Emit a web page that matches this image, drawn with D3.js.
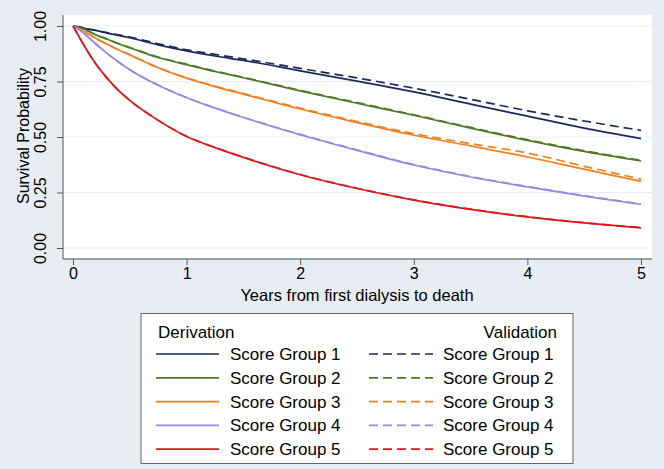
<!DOCTYPE html>
<html>
<head>
<meta charset="utf-8">
<script src="https://cdn.jsdelivr.net/npm/d3@7"></script>
<style>
  body { margin: 0; background: #e8edf3; }
  text { font-family: "Liberation Sans", Arial, sans-serif; fill: #000; }
</style>
</head>
<body>
<div id="chart"></div>
<script>
// years since first dialysis
const years = [0, 0.05, 0.1, 0.2, 0.3, 0.4, 0.5, 0.75, 1, 1.25, 1.5, 2, 2.5, 3, 3.5, 4, 4.5, 5];

// derivation cohort, survival by score group
const deriv1 = [1, 0.996, 0.99, 0.98, 0.968, 0.958, 0.947, 0.915, 0.888, 0.865, 0.845, 0.798, 0.752, 0.703, 0.648, 0.594, 0.54, 0.493];
const deriv2 = [1, 0.994, 0.985, 0.96, 0.94, 0.92, 0.902, 0.858, 0.826, 0.795, 0.767, 0.708, 0.652, 0.598, 0.54, 0.485, 0.435, 0.392];
const deriv3 = [1, 0.99, 0.975, 0.945, 0.918, 0.893, 0.87, 0.812, 0.765, 0.727, 0.693, 0.626, 0.565, 0.508, 0.46, 0.41, 0.355, 0.3];
const deriv4 = [1, 0.985, 0.965, 0.92, 0.877, 0.838, 0.803, 0.733, 0.677, 0.63, 0.588, 0.51, 0.44, 0.374, 0.32, 0.275, 0.234, 0.196];
const deriv5 = [1, 0.955, 0.91, 0.83, 0.765, 0.71, 0.665, 0.575, 0.502, 0.452, 0.408, 0.33, 0.268, 0.216, 0.174, 0.14, 0.113, 0.091];

// validation cohort
const valid1 = [1, 0.996, 0.99, 0.98, 0.97, 0.96, 0.95, 0.92, 0.893, 0.872, 0.852, 0.809, 0.766, 0.72, 0.67, 0.618, 0.572, 0.53];
const valid2 = [1, 0.994, 0.985, 0.961, 0.941, 0.921, 0.903, 0.86, 0.828, 0.797, 0.769, 0.71, 0.655, 0.6, 0.543, 0.488, 0.438, 0.395];
const valid3 = [1, 0.99, 0.975, 0.945, 0.918, 0.893, 0.87, 0.812, 0.766, 0.729, 0.696, 0.63, 0.57, 0.515, 0.47, 0.428, 0.368, 0.31];
const valid4 = [1, 0.985, 0.965, 0.92, 0.877, 0.838, 0.803, 0.734, 0.678, 0.631, 0.589, 0.512, 0.442, 0.376, 0.322, 0.277, 0.236, 0.198];
const valid5 = [1, 0.955, 0.91, 0.83, 0.765, 0.71, 0.665, 0.575, 0.503, 0.453, 0.409, 0.331, 0.269, 0.217, 0.175, 0.141, 0.114, 0.092];

const groupNames = ['Score Group 1', 'Score Group 2', 'Score Group 3', 'Score Group 4', 'Score Group 5'];
const colors = ['#1c2a5a', '#4f7a28', '#f07f1d', '#9a86de', '#d8191e'];
const xTicks = [0, 1, 2, 3, 4, 5];
const yTicks = [0, 0.25, 0.5, 0.75, 1];

const W = 664, H = 469;
const margin = { top: 15, right: 12, bottom: 211, left: 63 };

const svg = d3.select('#chart').append('svg')
  .attr('width', W)
  .attr('height', H);

svg.append('rect').attr('width', W).attr('height', H).attr('fill', '#e8edf3');

// plot region
svg.append('rect')
  .attr('x', margin.left)
  .attr('y', margin.top)
  .attr('width', W - margin.left - margin.right)
  .attr('height', H - margin.top - margin.bottom)
  .attr('fill', '#fff');

const x = d3.scaleLinear().domain([0, 5]).range([73, 641]);
const y = d3.scaleLinear().domain([0, 1]).range([248, 26]);
const plotBottom = H - margin.bottom + 1;

// grid
svg.append('g').selectAll('line')
  .data(yTicks)
  .enter().append('line')
  .attr('x1', margin.left)
  .attr('x2', W - margin.right)
  .attr('y1', d => y(d))
  .attr('y2', d => y(d))
  .attr('stroke', '#e9edf3')
  .attr('stroke-width', 1.2);

const line = d3.line()
  .x(d => x(d[0]))
  .y(d => y(d[1]))
  .curve(d3.curveMonotoneX);

const derivs = [deriv1, deriv2, deriv3, deriv4, deriv5];
const valids = [valid1, valid2, valid3, valid4, valid5];

const curves = svg.append('g');
valids.forEach((vals, i) => {
  curves.append('path')
    .attr('d', line(years.map((t, j) => [t, vals[j]])))
    .attr('fill', 'none')
    .attr('stroke', colors[i])
    .attr('stroke-width', 1.7)
    .attr('stroke-dasharray', '9,5');
});
derivs.forEach((vals, i) => {
  curves.append('path')
    .attr('d', line(years.map((t, j) => [t, vals[j]])))
    .attr('fill', 'none')
    .attr('stroke', colors[i])
    .attr('stroke-width', 1.7);
});

// x axis
const xAxis = svg.append('g')
  .attr('transform', `translate(0,${plotBottom})`)
  .call(d3.axisBottom(x).tickValues(xTicks).tickFormat(d3.format('d')).tickSize(6).tickSizeOuter(0).tickPadding(3));
xAxis.select('.domain').attr('d', `M${margin.left},0H${W - margin.right}`).attr('stroke', '#555');
xAxis.selectAll('.tick line').attr('stroke', '#555');
xAxis.selectAll('text').style('font-size', '16px').style('font-family', '"Liberation Sans", Arial, sans-serif').attr('fill', '#000');

// y axis
const yAxis = svg.append('g')
  .attr('transform', `translate(${margin.left},0)`)
  .call(d3.axisLeft(y).tickValues(yTicks).tickFormat(d3.format('.2f')).tickSize(6).tickSizeOuter(0));
yAxis.select('.domain').attr('d', `M0,${margin.top}V${plotBottom}`).attr('stroke', '#555');
yAxis.selectAll('.tick line').attr('stroke', '#555');
yAxis.selectAll('text')
  .attr('x', 0).attr('dy', 0)
  .attr('transform', 'translate(-17,0) rotate(-90)')
  .attr('text-anchor', 'middle')
  .attr('dominant-baseline', 'auto')
  .style('font-size', '16px')
  .style('font-family', '"Liberation Sans", Arial, sans-serif')
  .attr('fill', '#000');

// axis titles
svg.append('text')
  .attr('x', 357)
  .attr('y', 301)
  .attr('text-anchor', 'middle')
  .style('font-size', '16.5px')
  .text('Years from first dialysis to death');

svg.append('text')
  .attr('transform', 'translate(29,136) rotate(-90)')
  .attr('text-anchor', 'middle')
  .style('font-size', '16px')
  .text('Survival Probability');

// legend
const lg = svg.append('g');
lg.append('rect')
  .attr('x', 141).attr('y', 313.5)
  .attr('width', 432).attr('height', 150)
  .attr('fill', '#fff')
  .attr('stroke', '#666')
  .attr('stroke-width', 1);

lg.append('text').attr('x', 158).attr('y', 338).style('font-size', '17px').text('Derivation');
lg.append('text').attr('x', 557).attr('y', 338).attr('text-anchor', 'end').style('font-size', '17px').text('Validation');

groupNames.forEach((name, i) => {
  const cy = 354 + i * 23.8;
  lg.append('line')
    .attr('x1', 156).attr('x2', 219).attr('y1', cy).attr('y2', cy)
    .attr('stroke', colors[i]).attr('stroke-width', 1.7);
  lg.append('text').attr('x', 230).attr('y', cy + 6).style('font-size', '17px').text(name);
  lg.append('line')
    .attr('x1', 369).attr('x2', 433).attr('y1', cy).attr('y2', cy)
    .attr('stroke', colors[i]).attr('stroke-width', 1.7)
    .attr('stroke-dasharray', '9,5');
  lg.append('text').attr('x', 443).attr('y', cy + 6).style('font-size', '17px').text(name);
});
</script>
</body>
</html>
